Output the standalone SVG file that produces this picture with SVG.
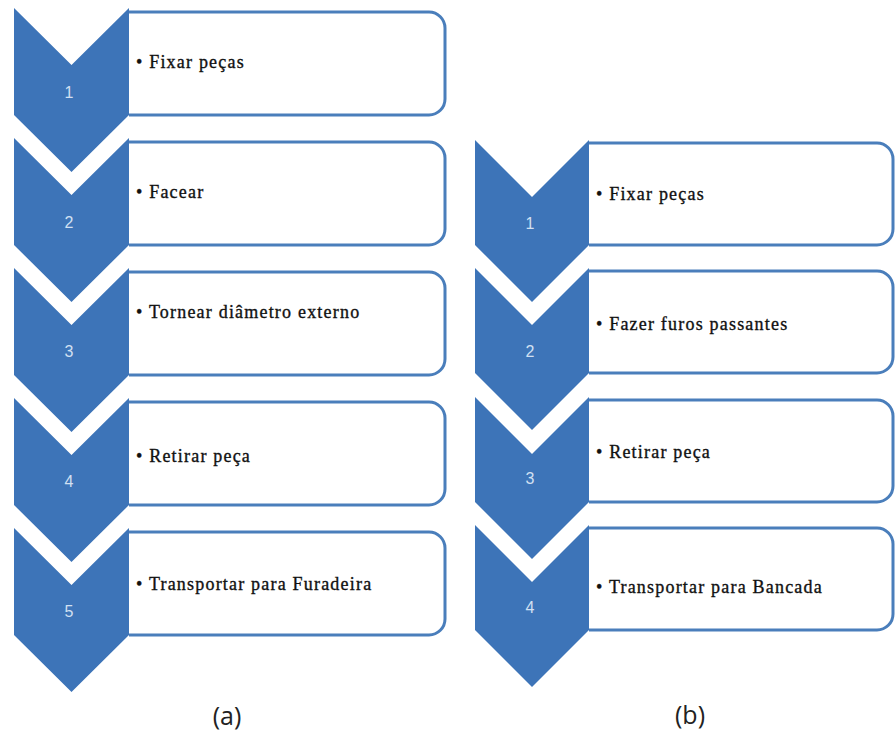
<svg xmlns="http://www.w3.org/2000/svg" width="895" height="735" viewBox="0 0 895 735">
<style>
.chev{fill:#3d74b8}
.box{fill:#ffffff;stroke:#4a7ebb;stroke-width:3}
.num{font-family:"Liberation Sans",Arial,sans-serif;font-size:16px;fill:#d2e0f2;text-anchor:middle}
.lbl{font-family:"Liberation Serif","Times New Roman",serif;font-size:18px;fill:#111;letter-spacing:1.2px;stroke:#111;stroke-width:0.35}
.cap{font-family:"Open Sans","Noto Sans",sans-serif;font-size:25px;fill:#222;text-anchor:middle}
</style>
<rect width="895" height="735" fill="#ffffff"/>
<g id="connectors"></g>
<g id="a1"><path class="box" d="M129,12 H429 A16,16 0 0 1 445,28 V99 A16,16 0 0 1 429,115 H129"/><path class="chev" d="M14,8 L71.5,65 L129,8 L129,115 L71.5,172 L14,115 Z"/><text class="num" x="69" y="98">1</text><text class="lbl" x="136" y="68">• Fixar peças</text></g>
<g id="a2"><path class="box" d="M129,142 H429 A16,16 0 0 1 445,158 V229 A16,16 0 0 1 429,245 H129"/><path class="chev" d="M14,138 L71.5,195 L129,138 L129,245 L71.5,302 L14,245 Z"/><text class="num" x="69" y="228">2</text><text class="lbl" x="136" y="198">• Facear</text></g>
<g id="a3"><path class="box" d="M129,272 H429 A16,16 0 0 1 445,288 V359 A16,16 0 0 1 429,375 H129"/><path class="chev" d="M14,268 L71.5,325 L129,268 L129,375 L71.5,432 L14,375 Z"/><text class="num" x="69" y="357">3</text><text class="lbl" x="136" y="318">• Tornear diâmetro externo</text></g>
<g id="a4"><path class="box" d="M129,402 H429 A16,16 0 0 1 445,418 V489 A16,16 0 0 1 429,505 H129"/><path class="chev" d="M14,398 L71.5,455 L129,398 L129,505 L71.5,562 L14,505 Z"/><text class="num" x="69" y="487">4</text><text class="lbl" x="136" y="462">• Retirar peça</text></g>
<g id="a5"><path class="box" d="M129,532 H429 A16,16 0 0 1 445,548 V619 A16,16 0 0 1 429,635 H129"/><path class="chev" d="M14,528 L71.5,585 L129,528 L129,635 L71.5,692 L14,635 Z"/><text class="num" x="69" y="617">5</text><text class="lbl" x="136" y="590">• Transportar para Furadeira</text></g>
<g id="b1"><path class="box" d="M589,143 H877 A16,16 0 0 1 893,159 V229 A16,16 0 0 1 877,245 H589"/><path class="chev" d="M475,140 L532,197 L589,140 L589,245 L532,302 L475,245 Z"/><text class="num" x="530" y="229">1</text><text class="lbl" x="596" y="200">• Fixar peças</text></g>
<g id="b2"><path class="box" d="M589,271 H877 A16,16 0 0 1 893,287 V357 A16,16 0 0 1 877,373 H589"/><path class="chev" d="M475,268 L532,325 L589,268 L589,373 L532,430 L475,373 Z"/><text class="num" x="530" y="357">2</text><text class="lbl" x="596" y="330">• Fazer furos passantes</text></g>
<g id="b3"><path class="box" d="M589,400 H877 A16,16 0 0 1 893,416 V486 A16,16 0 0 1 877,502 H589"/><path class="chev" d="M475,397 L532,454 L589,397 L589,502 L532,559 L475,502 Z"/><text class="num" x="530" y="484">3</text><text class="lbl" x="596" y="458">• Retirar peça</text></g>
<g id="b4"><path class="box" d="M589,528 H877 A16,16 0 0 1 893,544 V614 A16,16 0 0 1 877,630 H589"/><path class="chev" d="M475,525 L532,582 L589,525 L589,630 L532,687 L475,630 Z"/><text class="num" x="530" y="613">4</text><text class="lbl" x="596" y="593">• Transportar para Bancada</text></g>
<g id="captions"><text class="cap" x="227" y="725">(a)</text><text class="cap" x="690" y="724">(b)</text></g>
</svg>
